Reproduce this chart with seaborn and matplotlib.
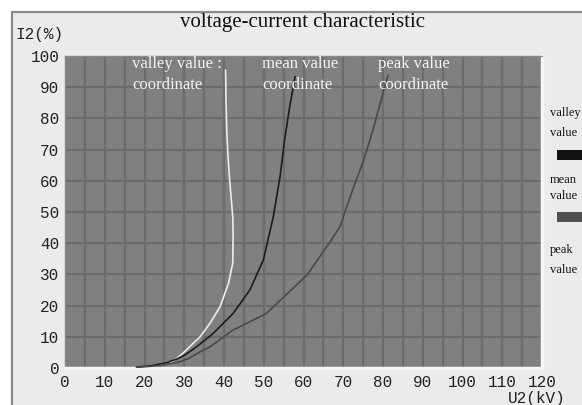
import numpy as np
import pandas as pd
import matplotlib
matplotlib.use("Agg")
import matplotlib.pyplot as plt
from matplotlib.patches import Rectangle
import seaborn as sns

# ---- data ----
valley_x = [18, 24, 27, 29.5, 31.5, 34, 36.5, 39, 41.1, 42.2, 42.3, 42.2, 41.5, 41.0, 40.7, 40.5, 40.4]
valley_y = [0.2, 0.9, 2.0, 4.5, 7.0, 10.0, 14.4, 19.6, 27.0, 33.6, 42.0, 48.5, 59.0, 68.0, 76.0, 86.0, 95.5]
mean_x = [18, 22, 25.6, 28, 30.2, 33.1, 37.3, 42.3, 46.5, 49.9, 52.4, 54.1, 55.3, 56.6, 57.9]
mean_y = [0.3, 0.8, 1.7, 2.8, 4.2, 6.8, 11.1, 17.5, 25.0, 34.6, 48.5, 61.3, 73.6, 84.3, 93.4]
peak_x = [18, 24, 28.9, 31, 34, 36.5, 42.3, 44, 50.7, 53.3, 59, 61, 64, 67, 69.2, 70.4, 72.5, 75, 77.6, 80.1, 81.3]
peak_y = [0.2, 0.8, 2.0, 3.0, 5.2, 6.8, 12.2, 13.2, 17.5, 20.7, 27.5, 30.0, 35.5, 41.0, 45.3, 50.0, 57.6, 66.1, 76.8, 88.6, 93.9]
series_names = ["valley value", "mean value", "peak value"]
x_ticks = list(range(0, 121, 10))
y_ticks = list(range(0, 101, 10))

df = pd.concat([
    pd.DataFrame({"U2": valley_x, "I2": valley_y, "series": series_names[0]}),
    pd.DataFrame({"U2": mean_x, "I2": mean_y, "series": series_names[1]}),
    pd.DataFrame({"U2": peak_x, "I2": peak_y, "series": series_names[2]}),
], ignore_index=True)

sns.set_style("white")
W, H = 582, 405
fig = plt.figure(figsize=(W / 100, H / 100), dpi=100)
fig.patch.set_facecolor("white")
# panel frame
fig.patches.append(Rectangle((12 / W, -0.1), 1.2, (H - 12) / H + 0.1, transform=fig.transFigure,
                             facecolor="#ebebeb", edgecolor="#8a8a8a", lw=1.6, zorder=-10))

ax = fig.add_axes([65 / W, (H - 368) / H, (542 - 65) / W, (368 - 56) / H])
ax.set_facecolor("#808080")

palette = {"valley value": "#ececec", "mean value": "#1c1c1c", "peak value": "#4a4a4a"}
sns.lineplot(data=df, x="U2", y="I2", hue="series", palette=palette, sort=False,
             estimator=None, linewidth=1.2, legend=False, ax=ax, zorder=3)

ax.set_xlim(0, 120)
ax.set_ylim(0, 100)
ax.set_xticks(x_ticks)
ax.set_xticks(np.arange(0, 121, 5), minor=True)
ax.set_yticks(y_ticks)
ax.grid(True, which="major", color="#6c6c6c", lw=1.6, zorder=1)
ax.grid(True, which="minor", axis="x", color="#6c6c6c", lw=1.6, zorder=1)
ax.set_axisbelow(True)

mono = "Liberation Mono"
ax.set_xticklabels([str(v) for v in x_ticks], fontfamily=mono, fontsize=11.5, color="#222222")
ylabels = [str(v) for v in y_ticks]
ax.set_yticklabels(ylabels, fontfamily=mono, fontsize=11.5, color="#222222")
ax.tick_params(axis="x", which="major", direction="out", length=3, width=1, color="#444444", pad=2)
ax.tick_params(axis="x", which="minor", length=0)
ax.tick_params(axis="y", direction="out", length=3, width=1, color="#444444", pad=1)
ax.set_xlabel("")
ax.set_ylabel("")

for side in ["top", "left"]:
    ax.spines[side].set_color("#8a8a8a")
    ax.spines[side].set_linewidth(1)
for side in ["bottom", "right"]:
    ax.spines[side].set_color("#f7f7f7")
    ax.spines[side].set_linewidth(2.5)

# title and axis names
serif = "Liberation Serif"
fig.text(303 / W, 1 - 23 / H, "voltage-current characteristic", ha="center", va="center",
         fontfamily=serif, fontsize=15, color="#111111")
fig.text(15 / W, 1 - 35 / H, "I2(%)", ha="left", va="center", fontfamily=mono, fontsize=11.5, color="#222222")
fig.text(537 / W, 1 - 398 / H, "U2(kV)", ha="center", va="center", fontfamily=mono, fontsize=11.5, color="#222222")

# white annotations inside the plot
ann = [(132, "valley value :"), (262, "mean value"), (378, "peak value")]
for px, txt in ann:
    fig.text(px / W, 1 - 64 / H, txt, ha="left", va="center", fontfamily=serif, fontsize=12, color="#f4f4f4")
    fig.text(px / W, 1 - 85 / H, "coordinate", ha="left", va="center", fontfamily=serif, fontsize=12, color="#f4f4f4")

# right-hand legend
leg = [(113, "valley"), (133, "value"), (180, "mean"), (196, "value"), (250, "peak"), (270, "value")]
for py, txt in leg:
    fig.text(550 / W, 1 - py / H, txt, ha="left", va="center", fontfamily=serif, fontsize=9, color="#111111")
for py, col in [(150, "#111111"), (212, "#505050")]:
    fig.patches.append(Rectangle((557 / W, 1 - (py + 10) / H), 40 / W, 10 / H, transform=fig.transFigure,
                                 facecolor=col, edgecolor="none"))

fig.savefig("out.png", dpi=100)
